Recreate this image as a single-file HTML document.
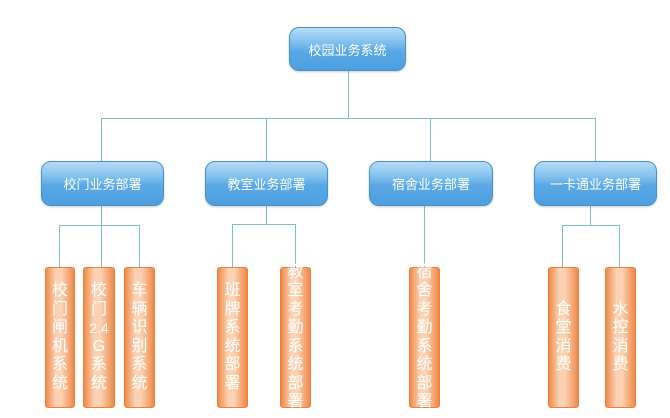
<!DOCTYPE html>
<html><head><meta charset="utf-8"><style>
body{margin:0;width:670px;height:418px;background:#fff;position:relative;overflow:hidden;font-family:"Liberation Sans","Noto Sans CJK SC",sans-serif}
.l{position:absolute;background:#7fbfbf}
.b{position:absolute;border:1px solid #4a90c8;border-radius:10px;background:linear-gradient(#b8dcf6 0%,#7ec0ee 35%,#5aa8e6 55%,#4d9fe0 100%);color:#fff;font-size:13px;display:flex;align-items:center;justify-content:center;box-shadow:0 1px 2px rgba(0,0,0,.2)}
.p{position:absolute;top:267px;height:139px;border:1px solid #e8803c;border-radius:3px;background:linear-gradient(90deg,#f08a48 0%,#fbd2b4 35%,#fbd2b4 55%,#f08a48 100%);color:#fff;font-size:16px;line-height:18.5px;display:flex;flex-direction:column;align-items:center;justify-content:center;overflow:visible;text-align:center}
</style></head><body>
<div class="l" style="left:348px;top:70px;width:1px;height:48px"></div>
<div class="l" style="left:101px;top:118px;width:495px;height:1px"></div>
<div class="l" style="left:101px;top:118px;width:1px;height:43px"></div>
<div class="l" style="left:266px;top:118px;width:1px;height:43px"></div>
<div class="l" style="left:430px;top:118px;width:1px;height:43px"></div>
<div class="l" style="left:595px;top:118px;width:1px;height:43px"></div>

<div class="l" style="left:101px;top:205px;width:1px;height:62px"></div>
<div class="l" style="left:59px;top:225px;width:80px;height:1px"></div>
<div class="l" style="left:59px;top:225px;width:1px;height:42px"></div>
<div class="l" style="left:139px;top:225px;width:1px;height:42px"></div>

<div class="l" style="left:266px;top:205px;width:1px;height:20px"></div>
<div class="l" style="left:232px;top:224px;width:63px;height:1px"></div>
<div class="l" style="left:232px;top:224px;width:1px;height:43px"></div>
<div class="l" style="left:295px;top:224px;width:1px;height:43px"></div>

<div class="l" style="left:424px;top:205px;width:1px;height:62px"></div>

<div class="l" style="left:590px;top:205px;width:1px;height:20px"></div>
<div class="l" style="left:562px;top:225px;width:57px;height:1px"></div>
<div class="l" style="left:562px;top:225px;width:1px;height:42px"></div>
<div class="l" style="left:619px;top:225px;width:1px;height:42px"></div>

<div class="b" style="left:289px;top:27px;width:115px;height:42px">校园业务系统</div>
<div class="b" style="left:41px;top:161px;width:121px;height:43px">校门业务部署</div>
<div class="b" style="left:205px;top:161px;width:121px;height:43px">教室业务部署</div>
<div class="b" style="left:369px;top:161px;width:122px;height:43px">宿舍业务部署</div>
<div class="b" style="left:534px;top:161px;width:121px;height:43px">一卡通业务部署</div>

<div class="p" style="left:45px;width:28px"><span>校</span><span>门</span><span>闸</span><span>机</span><span>系</span><span>统</span></div>
<div class="p" style="left:83px;width:30px"><span>校</span><span>门</span><span style="font-size:14px">2.4</span><span>G</span><span>系</span><span>统</span></div>
<div class="p" style="left:124px;width:29px"><span>车</span><span>辆</span><span>识</span><span>别</span><span>系</span><span>统</span></div>
<div class="p" style="left:217px;width:29px"><span>班</span><span>牌</span><span>系</span><span>统</span><span>部</span><span>署</span></div>
<div class="p" style="left:280px;width:29px"><span>教</span><span>室</span><span>考</span><span>勤</span><span>系</span><span>统</span><span>部</span><span>署</span></div>
<div class="p" style="left:409px;width:29px"><span>宿</span><span>舍</span><span>考</span><span>勤</span><span>系</span><span>统</span><span>部</span><span>署</span></div>
<div class="p" style="left:548px;width:29px"><span>食</span><span>堂</span><span>消</span><span>费</span></div>
<div class="p" style="left:605px;width:29px"><span>水</span><span>控</span><span>消</span><span>费</span></div>
</body></html>
